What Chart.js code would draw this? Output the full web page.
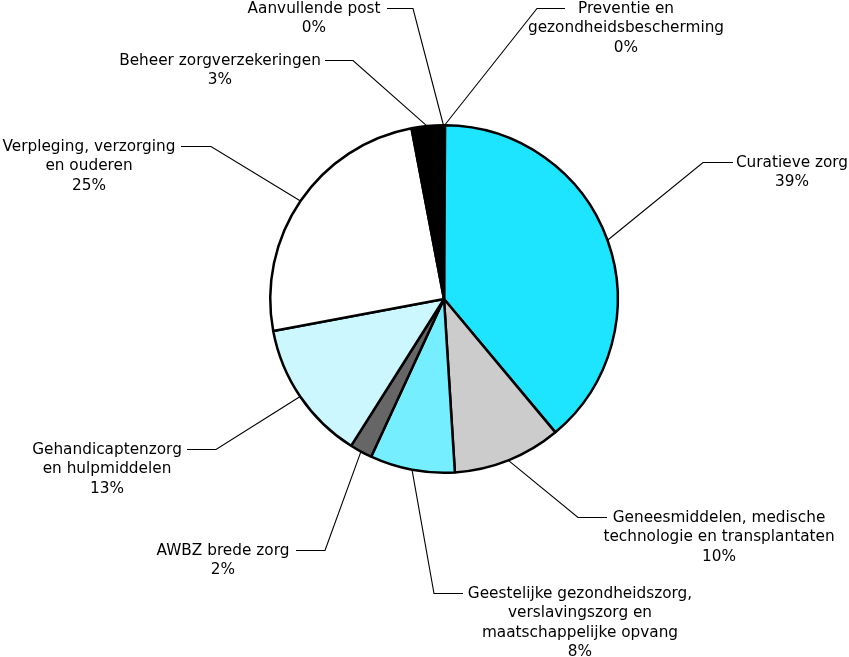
<!DOCTYPE html>
<html><head><meta charset="utf-8">
<script src="https://cdn.jsdelivr.net/npm/chart.js@4"></script>
<style>html,body{margin:0;padding:0;background:#fff;}#wrap{width:849px;height:657px;}</style>
</head><body><div id="wrap"><canvas id="c" width="849" height="657"></canvas></div>
<script>
const categories = ["Preventie en gezondheidsbescherming","Curatieve zorg","Geneesmiddelen, medische technologie en transplantaten","Geestelijke gezondheidszorg, verslavingszorg en maatschappelijke opvang","AWBZ brede zorg","Gehandicaptenzorg en hulpmiddelen","Verpleging, verzorging en ouderen","Beheer zorgverzekeringen","Aanvullende post"];
const values = [0.1, 38.9, 10.1, 7.9, 2.1, 13.1, 25.0, 2.9, 0.1];
const percentLabels = ["0%","39%","10%","8%","2%","13%","25%","3%","0%"];
const labelLines = [
  ["Preventie en","gezondheidsbescherming"],
  ["Curatieve zorg"],
  ["Geneesmiddelen, medische","technologie en transplantaten"],
  ["Geestelijke gezondheidszorg,","verslavingszorg en","maatschappelijke opvang"],
  ["AWBZ brede zorg"],
  ["Gehandicaptenzorg","en hulpmiddelen"],
  ["Verpleging, verzorging","en ouderen"],
  ["Beheer zorgverzekeringen"],
  ["Aanvullende post"]
];
const colors = ['#00c8ff','#1de4ff','#cccccc','#75efff','#666666','#ccf7ff','#ffffff','#000000','#999999'];
// layout: elbow x, elbow y, horizontal end x, text center x
const layout = [
  [537,8,565,626],
  [703,162,733,792],
  [578,517,607,719],
  [434,593,463,580],
  [325,550,296,223],
  [216,449,187,107],
  [211,146,181,89],
  [353,60,325,220],
  [413,8,387,314]
];
const FONT = '15.3px "DejaVu Sans"';
const LH = 19.5;
const labelPlugin = {
  id:'labels',
  afterDraw(chart){
    const ctx = chart.ctx;
    const meta = chart.getDatasetMeta(0);
    ctx.save();
    meta.data.forEach((arc,i)=>{
      const p = arc.getProps(['x','y','startAngle','endAngle','outerRadius'],true);
      const mid = (p.startAngle+p.endAngle)/2;
      const ax = p.x + Math.cos(mid)*p.outerRadius;
      const ay = p.y + Math.sin(mid)*p.outerRadius;
      const [ex,ey,hx,tx] = layout[i];
      ctx.strokeStyle='#000'; ctx.lineWidth=1.1;
      ctx.beginPath(); ctx.moveTo(ax,ay); ctx.lineTo(ex,ey+0.5); ctx.lineTo(hx,ey+0.5); ctx.stroke();
      ctx.fillStyle='#000'; ctx.font=FONT; ctx.textAlign='center'; ctx.textBaseline='middle';
      const lines = labelLines[i].concat([percentLabels[i]]);
      lines.forEach((t,k)=>ctx.fillText(t,tx,ey+1+k*LH));
    });
    ctx.restore();
  }
};
new Chart(document.getElementById('c'),{
  type:'pie',
  data:{labels:categories,datasets:[{data:values,backgroundColor:colors,borderColor:'#000',borderWidth:2.5}]},
  options:{
    responsive:false,animation:false,
    layout:{padding:{top:124,bottom:183,left:269,right:230}},
    plugins:{legend:{display:false},tooltip:{enabled:false}}
  },
  plugins:[labelPlugin]
});
</script></body></html>
